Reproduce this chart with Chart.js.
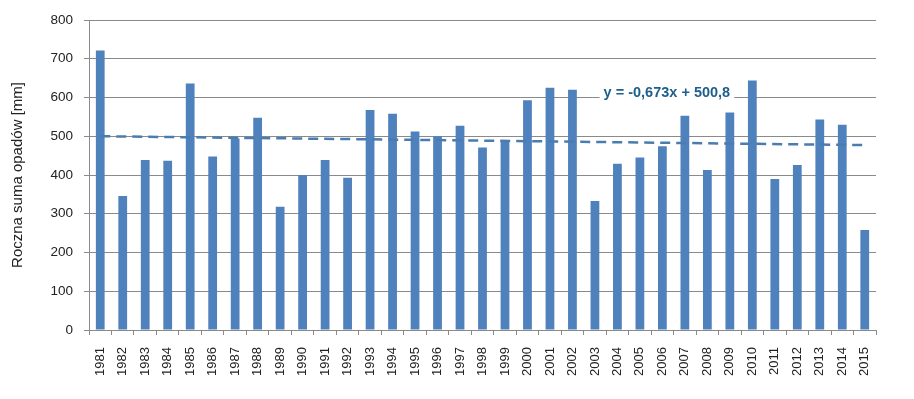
<!DOCTYPE html>
<html lang="pl">
<head>
    <meta charset="UTF-8">
    <title>Roczna suma opadów</title>
    <script src="https://cdn.jsdelivr.net/npm/chart.js"></script>
    <style>
        html, body { margin: 0; padding: 0; background: #fff; }
        #wrap { width: 914px; height: 399px; }
    </style>
</head>
<body>
    <div id="wrap"><canvas id="rainChart" width="914" height="399"></canvas></div>
    <script>
        // lata i roczne sumy opadów [mm]
        const years = ['1981','1982','1983','1984','1985','1986','1987','1988','1989','1990',
                       '1991','1992','1993','1994','1995','1996','1997','1998','1999','2000',
                       '2001','2002','2003','2004','2005','2006','2007','2008','2009','2010',
                       '2011','2012','2013','2014','2015'];
        const rainfall = [721, 346, 439, 437, 636, 448, 494, 548, 318, 400,
                          439, 393, 568, 558, 512, 500, 527, 471, 490, 593,
                          625, 620, 333, 429, 445, 474, 553, 413, 561, 644,
                          390, 426, 543, 530, 258];
        // linia trendu: tylko punkty końcowe (1981 i 2015)
        const trend = [500.1, null, null, null, null, null, null, null, null, null,
                       null, null, null, null, null, null, null, null, null, null,
                       null, null, null, null, null, null, null, null, null, null,
                       null, null, null, null, 477.2];
        const trendLabel = 'y = -0,673x + 500,8';
        const yTicks = [0, 100, 200, 300, 400, 500, 600, 700, 800];

        const gridGray = '#8a8a8a';
        const textColor = '#222';

        // napis równania trendu na białym tle
        const trendLabelPlugin = {
            id: 'trendLabel',
            afterDatasetsDraw(chart) {
                const ctx = chart.ctx;
                const x = chart.scales.x.getPixelForValue(25.2);
                const y = chart.scales.y.getPixelForValue(612);
                ctx.save();
                ctx.font = 'bold 14.5px "Liberation Sans", Arial, sans-serif';
                const w = ctx.measureText(trendLabel).width;
                ctx.fillStyle = '#fff';
                ctx.fillRect(x - w / 2 - 4, y - 9, w + 8, 18);
                ctx.fillStyle = '#1c5f8c';
                ctx.textAlign = 'center';
                ctx.textBaseline = 'middle';
                ctx.fillText(trendLabel, x, y);
                ctx.restore();
            }
        };

        const config = {
            type: 'bar',
            data: {
                labels: years,
                datasets: [{
                    type: 'line',
                    label: 'trend',
                    data: trend,
                    borderColor: '#4a7cb0',
                    borderWidth: 2.5,
                    borderDash: [10, 6],
                    pointRadius: 0,
                    spanGaps: true,
                    fill: false,
                    order: 0
                }, {
                    label: 'opady',
                    data: rainfall,
                    backgroundColor: '#4f81bd',
                    barPercentage: 0.39,
                    categoryPercentage: 1.0,
                    order: 1
                }]
            },
            options: {
                responsive: false,
                animation: false,
                layout: { padding: { left: 0, right: 38, top: 20, bottom: 0 } },
                plugins: {
                    legend: { display: false },
                    tooltip: { enabled: false }
                },
                scales: {
                    x: {
                        grid: {
                            offset: true,
                            drawOnChartArea: false,
                            drawTicks: true,
                            tickLength: 5,
                            color: gridGray
                        },
                        border: { color: gridGray },
                        ticks: {
                            minRotation: 90,
                            maxRotation: 90,
                            padding: 12,
                            color: textColor,
                            font: { family: '"Liberation Sans", Arial, sans-serif', size: 13 }
                        },
                        afterFit(scale) { scale.height = 69; }
                    },
                    y: {
                        min: 0,
                        max: 800,
                        afterBuildTicks(scale) { scale.ticks = yTicks.map(v => ({ value: v })); },
                        grid: { color: gridGray, tickLength: 5 },
                        border: { color: gridGray },
                        ticks: {
                            padding: 11,
                            color: textColor,
                            font: { family: '"Liberation Sans", Arial, sans-serif', size: 13.5 }
                        },
                        title: {
                            display: true,
                            text: 'Roczna suma opadów [mm]',
                            color: textColor,
                            padding: { top: 9, bottom: 0 },
                            font: { family: '"Liberation Sans", Arial, sans-serif', size: 15 }
                        },
                        afterFit(scale) { scale.width = 89; }
                    }
                }
            },
            plugins: [trendLabelPlugin]
        };

        const ctx = document.getElementById('rainChart').getContext('2d');
        new Chart(ctx, config);
    </script>
</body>
</html>
